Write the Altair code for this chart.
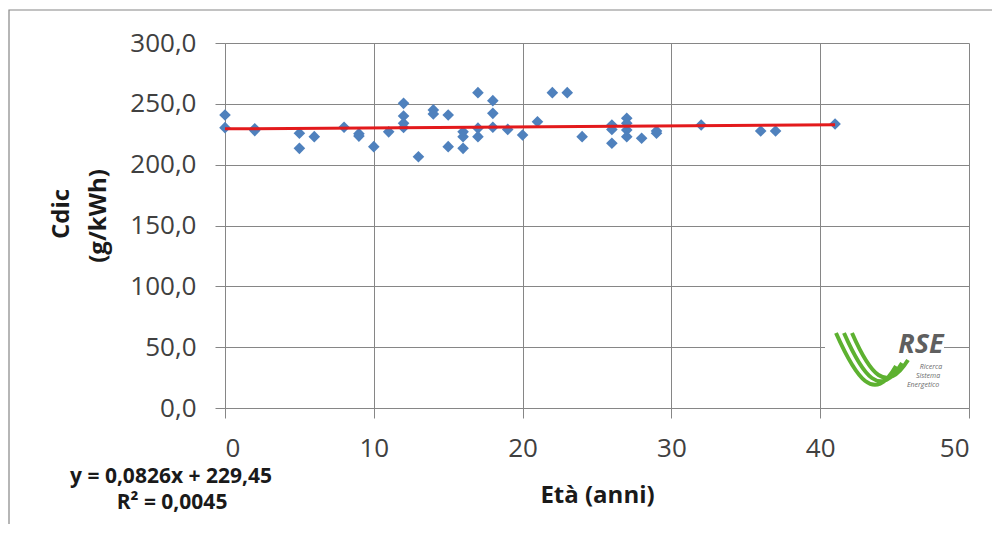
import altair as alt
import pandas as pd

# ---- data ----
eta = [0, 0, 2, 2, 5, 5, 6, 8, 9, 9, 10, 11, 12, 12, 12, 12, 13, 14, 14, 15, 15,
       16, 16, 16, 17, 17, 17, 18, 18, 18, 19, 20, 21, 22, 23, 24, 26, 26, 26,
       27, 27, 27, 27, 28, 29, 29, 32, 36, 37, 41]
cdic = [240.8, 230.4, 229.5, 228.0, 225.8, 213.4, 223.0, 230.7, 225.5, 223.5,
        214.8, 227.0, 250.4, 240.0, 234.0, 230.5, 206.5, 245.0, 241.6, 240.8,
        214.8, 227.0, 223.0, 213.4, 259.2, 230.0, 223.0, 252.6, 242.2, 230.7,
        229.0, 224.4, 235.3, 259.2, 259.2, 223.0, 232.6, 229.0, 217.6, 238.1,
        234.0, 228.5, 223.0, 221.7, 227.7, 225.8, 232.6, 227.7, 227.7, 233.4]
trend_coef = [0.0826, 229.45]          # slope, intercept
trend_x = [0, 41]
x_ticks = [0, 10, 20, 30, 40, 50]
y_ticks = [0, 50, 100, 150, 200, 250, 300]
eq_lines = ["y = 0,0826x + 229,45", "R\u00b2 = 0,0045"]
x_title = "Età (anni)"
y_title = ["Cdic", "(g/kWh)"]

df = pd.DataFrame({"eta": eta, "cdic": cdic})
trend = pd.DataFrame({"eta": trend_x,
                      "cdic": [trend_coef[0] * v + trend_coef[1] for v in trend_x]})
one = pd.DataFrame({"k": [0]})

W, H = 744, 365
PAD_L, PAD_T = 217, 35
GRID = "#868686"
FONT = "Open Sans"

xs = alt.Scale(domain=[0, 50], nice=False, zero=False)
ys = alt.Scale(domain=[0, 300], nice=False)

points = alt.Chart(df).mark_point(
    shape="diamond", filled=True, size=135, color="#4F81BD", opacity=1
).encode(
    x=alt.X("eta:Q", scale=xs, axis=alt.Axis(
        values=x_ticks, title=x_title, format="d",
        titleX=W / 2, titleY=87, titleAlign="center", titleBaseline="middle",
        labelPadding=17)),
    y=alt.Y("cdic:Q", scale=ys, axis=alt.Axis(
        values=y_ticks, title="",
        labelExpr="replace(format(datum.value, '.1f'), '.', ',')",
        labelPadding=19)),
)

line = alt.Chart(trend).mark_line(color="#E31A1C", strokeWidth=3).encode(
    x=alt.X("eta:Q", scale=xs), y=alt.Y("cdic:Q", scale=ys))

# outer chart frame
frame = alt.Chart(one).mark_rect(fill="white", fillOpacity=0, stroke=GRID,
                                 strokeWidth=1.2).encode(
    x=alt.value(-PAD_L + 1), x2=alt.value(W + 80),
    y=alt.value(-33), y2=alt.value(H + 300))

# y-axis title lines
ytit1 = alt.Chart(one).mark_text(text=y_title[0], font=FONT, fontSize=24,
                                 fontWeight="bold", angle=270, align="center",
                                 baseline="middle", color="#1a1a1a").encode(
    x=alt.value(62 - 8 - PAD_L), y=alt.value(214 - 8 - PAD_T))
ytit2 = alt.Chart(one).mark_text(text=y_title[1], font=FONT, fontSize=24,
                                 fontWeight="bold", angle=270, align="center",
                                 baseline="middle", color="#1a1a1a").encode(
    x=alt.value(99 - 8 - PAD_L), y=alt.value(216 - 8 - PAD_T))

eq1 = alt.Chart(one).mark_text(text=eq_lines[0], font=FONT, fontSize=21,
                               fontWeight="bold", align="center",
                               baseline="middle", color="#1a1a1a").encode(
    x=alt.value(171 - 8 - PAD_L), y=alt.value(477 - 8 - PAD_T))
eq2 = alt.Chart(one).mark_text(text=eq_lines[1], font=FONT, fontSize=21,
                               fontWeight="bold", align="center",
                               baseline="middle", color="#1a1a1a").encode(
    x=alt.value(172 - 8 - PAD_L), y=alt.value(503 - 8 - PAD_T))

# ---- RSE logo (decoration) ----
def rel(px, py):
    return px - 8 - PAD_L, py - 8 - PAD_T

bx0, by0 = rel(825, 331)
bx1, by1 = rel(944, 394)
logo_bg = alt.Chart(one).mark_rect(fill="white").encode(
    x=alt.value(bx0), x2=alt.value(bx1), y=alt.value(by0), y2=alt.value(by1))

cx, cy, k = 870, 362, 40.0
def u(px, py):
    return f"{(px - cx) / k:.3f},{(py - cy) / k:.3f}"
curves = []
for i in range(3):
    curves.append("M" + u(836 + 8 * i, 333)
                  + "C" + u(856 + 7 * i, 378 - 2 * i) + " "
                  + u(874 + 6 * i, 405 - 5 * i) + " "
                  + u(896 + 6 * i, 366 - 3 * i))
swoosh_path = " ".join(curves)
sx, sy = rel(cx, cy)
swoosh = alt.Chart(one).mark_point(shape=swoosh_path, size=(2 * k) ** 2,
                                   filled=False, stroke="#5DB130",
                                   strokeWidth=4, opacity=1).encode(
    x=alt.value(sx), y=alt.value(sy))

rx, ry = rel(921, 345)
rse = alt.Chart(one).mark_text(text="RSE", font=FONT, fontSize=27,
                               fontWeight="bold", fontStyle="italic",
                               color="#5f5f5f", align="center",
                               baseline="middle").encode(
    x=alt.value(rx), y=alt.value(ry))
small = []
for txt, (px, py) in zip(["Ricerca", "Sistema", "Energetico"],
                         [(931, 367), (928, 376), (923, 385)]):
    qx, qy = rel(px, py)
    small.append(alt.Chart(one).mark_text(text=txt, font=FONT, fontSize=7,
                                          fontStyle="italic", color="#6a6a6a",
                                          align="center",
                                          baseline="middle").encode(
        x=alt.value(qx), y=alt.value(qy)))

chart = alt.layer(frame, points, line, logo_bg, swoosh, rse, *small,
                  ytit1, ytit2, eq1, eq2).properties(
    width=W, height=H,
    autosize=alt.AutoSizeParams(type="none"),
    padding={"left": PAD_L, "top": PAD_T, "right": 23, "bottom": 116},
    background="white",
).configure_view(strokeWidth=0).configure_axis(
    grid=True, gridColor=GRID, gridWidth=1, domainColor=GRID, domainWidth=1,
    tickColor=GRID, tickSize=10, tickWidth=1,
    labelFont=FONT, labelFontSize=26, labelColor="#404040",
    titleFont=FONT, titleFontSize=24, titleFontWeight="bold",
    titleColor="#1a1a1a",
)

chart.save("out.html", embed_options={"renderer": "svg", "actions": False})
